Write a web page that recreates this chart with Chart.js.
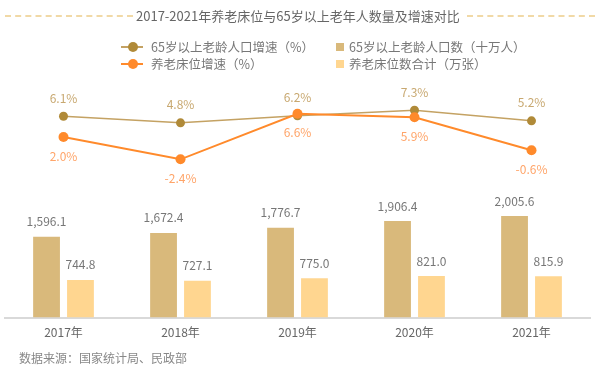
<!DOCTYPE html>
<html><head><meta charset="utf-8">
<script src="https://cdn.jsdelivr.net/npm/chart.js@4/dist/chart.umd.min.js"></script>
<style>
html,body{margin:0;padding:0;background:#fff;}
#wrap{position:relative;width:600px;height:369px;overflow:hidden;font-family:"Noto Sans CJK SC","Noto Sans",sans-serif;}
#c{position:absolute;left:0;top:0;}
.t{position:absolute;white-space:nowrap;color:#777;}
#title{left:0;top:6px;width:600px;height:20px;}
#title .dash{position:absolute;top:9px;height:0;border-top:2px dashed #f1d9a6;}
#title .txt{position:absolute;left:136px;top:0;font-size:13px;line-height:20px;color:#666;}
.leg{position:absolute;height:16px;width:240px;font-size:12.5px;line-height:16px;color:#777;white-space:nowrap;}
.leg span{white-space:nowrap;}
.ln{position:absolute;top:7px;width:22px;height:2px;}
.dot{position:absolute;top:3px;width:10px;height:10px;border-radius:50%;}
.sq{position:absolute;top:4px;width:8px;height:8px;}
#src{left:19px;top:350px;font-size:12px;line-height:16px;color:#888;}
</style></head>
<body>
<div id="wrap">
<canvas id="c" width="600" height="369"></canvas>
<div id="title" class="t">
  <div class="dash" style="left:5px;width:128px;"></div>
  <div class="txt">2017-2021年养老床位与65岁以上老年人数量及增速对比</div>
  <div class="dash" style="left:467px;width:128px;"></div>
</div>
<div id="legend"></div>
<div id="src" class="t">数据来源：国家统计局、民政部</div>
</div>
<script>
const categories = ["2017年","2018年","2019年","2020年","2021年"];
const elderlyPop = [1596.1, 1672.4, 1776.7, 1906.4, 2005.6];   // 65岁以上老龄人口数（十万人）
const bedsTotal = [744.8, 727.1, 775.0, 821.0, 815.9];         // 养老床位数合计（万张）
const elderlyGrowth = [6.1, 4.8, 6.2, 7.3, 5.2];               // 65岁以上老龄人口增速（%）
const bedsGrowth = [2.0, -2.4, 6.6, 5.9, -0.6];                // 养老床位增速（%）
const seriesNames = ["65岁以上老龄人口增速（%）","养老床位增速（%）","65岁以上老龄人口数（十万人）","养老床位数合计（万张）"];

const C = {
  tanLine:'#c4a263', tanDot:'#b08a38', tanLabel:'#c8a870',
  orange:'#ff8a2b', orangeLabel:'#ffa468',
  bar1:'#d9b97b', bar2:'#ffd690', barLabel:'#777'
};

// HTML legend
const legend = document.getElementById('legend');
const legItems = [
  {type:'line', line:C.tanLine, dot:C.tanDot, x:121, y:39, text:seriesNames[0]},
  {type:'line', line:C.orange, dot:C.orange, x:121, y:56, text:seriesNames[1]},
  {type:'sq', color:C.bar1, x:336, y:39, text:seriesNames[2]},
  {type:'sq', color:C.bar2, x:336, y:56, text:seriesNames[3]}
];
legItems.forEach(it=>{
  const d = document.createElement('div');
  d.className='leg';
  d.style.left = it.x+'px'; d.style.top = it.y+'px';
  if(it.type==='line'){
    d.innerHTML = '<div class="ln" style="left:0;background:'+it.line+'"></div>'+
      '<div class="dot" style="left:7px;background:'+it.dot+'"></div>'+
      '<span style="position:absolute;left:30px;">'+it.text+'</span>';
  } else {
    d.innerHTML = '<div class="sq" style="left:0;background:'+it.color+'"></div>'+
      '<span style="position:absolute;left:13px;">'+it.text+'</span>';
  }
  legend.appendChild(d);
});

const FONT = '"Noto Sans CJK SC","Noto Sans",sans-serif';
const labelPlugin = {
  id:'valueLabels',
  afterDatasetsDraw(chart){
    const ctx = chart.ctx;
    ctx.save();
    ctx.font = '12px ' + FONT;
    ctx.textAlign = 'center';
    ctx.textBaseline = 'middle';
    chart.data.datasets.forEach((ds,i)=>{
      const meta = chart.getDatasetMeta(i);
      meta.data.forEach((el,j)=>{
        const v = ds.data[j];
        let txt;
        if(ds.type==='line'){ txt = v.toFixed(1)+'%'; }
        else { txt = v.toLocaleString('en-US',{minimumFractionDigits:1,maximumFractionDigits:1}); }
        ctx.fillStyle = ds.labelColor;
        ctx.fillText(txt, el.x, el.y + ds.labelOffset);
      });
    });
    ctx.restore();
  }
};

new Chart(document.getElementById('c'), {
  data:{
    labels: categories,
    datasets:[
      {type:'line', label:seriesNames[0], data:elderlyGrowth, yAxisID:'yL',
       borderColor:C.tanLine, borderWidth:1.5, pointBackgroundColor:C.tanDot, pointBorderColor:C.tanDot,
       pointRadius:4.5, pointBorderWidth:0, tension:0, labelColor:C.tanLabel, labelOffset:-18, order:1},
      {type:'line', label:seriesNames[1], data:bedsGrowth, yAxisID:'yL',
       borderColor:C.orange, borderWidth:2, pointBackgroundColor:C.orange, pointBorderColor:C.orange,
       pointRadius:5, pointBorderWidth:0, tension:0, labelColor:C.orangeLabel, labelOffset:19, order:0},
      {type:'bar', label:seriesNames[2], data:elderlyPop, yAxisID:'yB',
       backgroundColor:C.bar1, categoryPercentage:0.58, barPercentage:0.79,
       labelColor:C.barLabel, labelOffset:-15, order:2},
      {type:'bar', label:seriesNames[3], data:bedsTotal, yAxisID:'yB',
       backgroundColor:C.bar2, categoryPercentage:0.58, barPercentage:0.79,
       labelColor:C.barLabel, labelOffset:-15, order:3}
    ]
  },
  options:{
    responsive:false, animation:false, devicePixelRatio:1,
    layout:{padding:{left:5,right:10,top:85,bottom:21}},
    plugins:{legend:{display:false}, tooltip:{enabled:false}, title:{display:false}},
    scales:{
      x:{
        grid:{display:false, drawTicks:false},
        border:{display:true, color:'#d9d9d9', width:2},
        ticks:{color:'#666', font:{size:12, family:FONT}, padding:8}
      },
      yB:{display:false, min:0, max:4594},
      yL:{display:false, min:-33.66, max:12.28}
    }
  },
  plugins:[labelPlugin]
});
</script>
</body></html>
